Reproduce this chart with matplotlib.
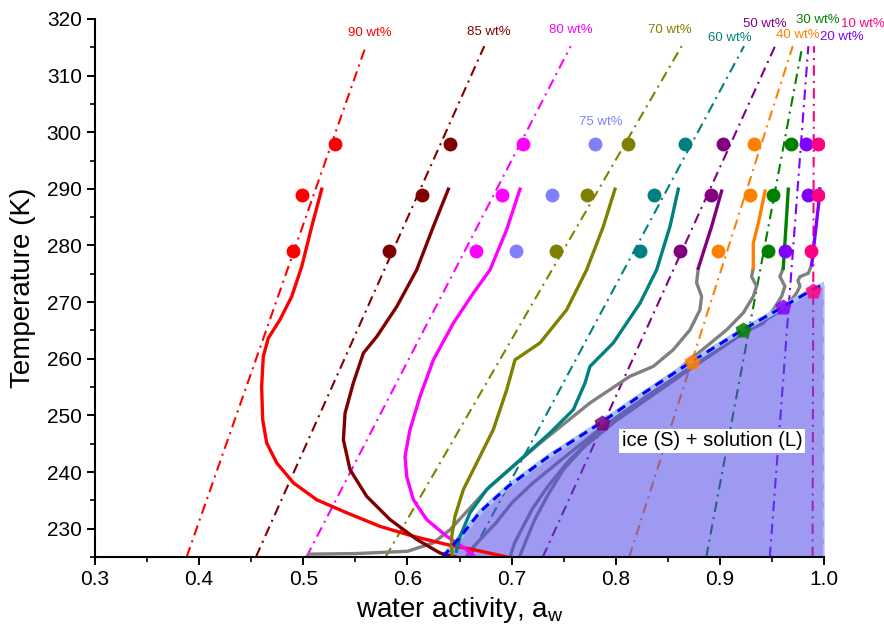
import matplotlib
matplotlib.use("Agg")
import matplotlib.pyplot as plt
from matplotlib.ticker import MultipleLocator

plt.rcParams['font.family'] = ['Liberation Sans', 'DejaVu Sans']
plt.rcParams['mathtext.fontset'] = 'custom'
plt.rcParams['mathtext.rm'] = 'Liberation Sans'
plt.rcParams['mathtext.it'] = 'Liberation Sans'

# ---------------- data ----------------
wt_colors = {90: '#ff0000', 85: '#800000', 80: '#ff00ff', 75: '#8080ff', 70: '#808000',
             60: '#008080', 50: '#800080', 40: '#ff8000', 30: '#008000', 20: '#8000ff',
             10: '#ff0080'}

# isopleths (dash-dot): aw at bottom (225 K) and at top (315.2 K)
iso_wt = [90, 85, 80, 70, 60, 50, 40, 30, 20, 10]
iso_aw_bottom = [0.388, 0.4545, 0.503, 0.579, 0.660, 0.730, 0.813, 0.887, 0.948, 0.989]
iso_aw_top = [0.560, 0.6738, 0.7568, 0.8633, 0.9232, 0.953, 0.970, 0.9792, 0.985, 0.9904]
iso_T_bottom = 225.0
iso_T_top = 315.2

# circles at three temperatures
circ_wt = [90, 85, 80, 75, 70, 60, 50, 40, 30, 20, 10]
circ_T = [298, 289, 279]
aw_298 = [0.5305, 0.641, 0.711, 0.780, 0.812, 0.8665, 0.903, 0.933, 0.968, 0.983, 0.994]
aw_289 = [0.4985, 0.6137, 0.6905, 0.7385, 0.7721, 0.837, 0.8912, 0.929, 0.9513, 0.985, 0.994]
aw_279 = [0.4904, 0.5823, 0.6659, 0.7043, 0.7427, 0.8229, 0.8617, 0.8985, 0.946, 0.9626, 0.9872]

# freezing points (pentagons)
pent_wt = [50, 40, 30, 20, 10]
pent_aw = [0.7866, 0.873, 0.9225, 0.961, 0.9898]
pent_T = [248.65, 259.5, 265.1, 269.2, 271.9]

# ice melting curve
ice_aw = [0.634, 0.651, 0.670, 0.697, 0.736, 0.785, 0.830, 0.872, 0.922, 0.961, 0.989, 1.0]
ice_T = [225.0, 228.6, 233.0, 237.5, 242.8, 248.6, 254.3, 259.4, 265.1, 269.2, 272.2, 273.15]

# solid curves (coloured parts)
red90_aw = [0.5177, 0.5081, 0.4985, 0.4889, 0.4776, 0.4664, 0.4616, 0.4600, 0.4610, 0.4649,
            0.4745, 0.4904, 0.5129, 0.5417, 0.5737, 0.6057, 0.6377, 0.6633, 0.6956]
red90_T = [289.95, 283.35, 276.3, 271.0, 266.9, 263.65, 260.4, 255.1, 249.2, 245.1,
           241.6, 238.1, 235.1, 232.8, 230.4, 228.65, 227.2, 226.3, 225.0]
dr85_aw = [0.6393, 0.6249, 0.6089, 0.5897, 0.5705, 0.5577, 0.5480, 0.5401, 0.5385, 0.5449,
           0.5609, 0.5833, 0.6089, 0.6313, 0.6457]
dr85_T = [289.95, 283.35, 275.7, 269.2, 263.9, 261.0, 255.7, 250.4, 245.7, 240.4,
          235.7, 231.6, 228.1, 225.7, 225.0]
mg80_aw = [0.7081, 0.6953, 0.6793, 0.6633, 0.6441, 0.6249, 0.6121, 0.6025, 0.5977, 0.5993,
           0.6057, 0.6185, 0.6377, 0.6569, 0.665]
mg80_T = [289.95, 282.8, 275.7, 271.6, 266.3, 259.8, 253.35, 247.5, 242.8, 239.2,
          235.1, 231.6, 228.65, 226.3, 225.0]
ol70_aw = [0.7993, 0.7881, 0.7721, 0.7529, 0.7273, 0.7033, 0.6953, 0.6825, 0.6665, 0.6537,
           0.6457, 0.6425, 0.6425, 0.643]
ol70_T = [289.95, 283.35, 275.7, 268.65, 262.8, 259.8, 254.5, 247.5, 241.6, 236.9,
          232.2, 228.65, 226.3, 225.0]
tl60_aw = [0.8601, 0.8521, 0.8393, 0.8233, 0.7977, 0.7753, 0.7705, 0.7593, 0.7369, 0.7049,
           0.6761, 0.6601, 0.6505, 0.647]
tl60_T = [289.95, 283.35, 275.7, 269.8, 262.8, 258.65, 255.7, 251.0, 246.9, 241.6,
          236.9, 232.8, 228.65, 226.0]
pu50_aw = [0.9017, 0.8921, 0.8793]
pu50_T = [289.6, 283.35, 276.0]
or40_aw = [0.9434, 0.9369, 0.9321, 0.9321]
or40_T = [289.6, 283.9, 280.4, 276.0]
gr30_aw = [0.9657, 0.9641, 0.9609]
gr30_T = [289.95, 285.1, 276.0]
vi20_aw = [0.996, 0.9955, 0.9882]
vi20_T = [290.0, 288.35, 276.6]

# grey continuations (below ~276 K)
g50_aw = [0.8793, 0.8777, 0.8825, 0.8809, 0.8713, 0.8553, 0.8361, 0.8137, 0.7753, 0.7273,
          0.6793, 0.6409, 0.625, 0.600, 0.550, 0.505]
g50_T = [276.0, 273.4, 271.0, 268.65, 265.1, 261.6, 258.65, 256.9, 252.2, 245.1,
         237.5, 229.8, 227.5, 226.0, 225.6, 225.5]
g40_aw = [0.9321, 0.9305, 0.9353, 0.9321, 0.9225, 0.9065, 0.8873, 0.8713, 0.830, 0.785,
          0.750, 0.720, 0.700, 0.685, 0.672, 0.662, 0.657]
g40_T = [276.0, 274.5, 272.8, 271.0, 268.1, 265.1, 262.2, 259.8, 253.5, 247.6,
         242.5, 238.0, 234.5, 231.0, 228.5, 226.5, 225.2]
g30_aw = [0.9609, 0.9577, 0.9625, 0.9593, 0.9513, 0.9417, 0.920, 0.870, 0.820, 0.780,
          0.755, 0.735, 0.720, 0.710, 0.703, 0.699]
g30_T = [276.0, 274.5, 272.8, 271.0, 268.65, 266.3, 264.3, 258.3, 252.2, 246.5,
         242.0, 237.5, 233.5, 230.0, 227.5, 225.3]
g20_aw = [0.9882, 0.9850, 0.977, 0.975, 0.977, 0.9737, 0.9674, 0.961, 0.920, 0.870,
          0.800, 0.770, 0.750, 0.735, 0.722, 0.713, 0.708]
g20_T = [276.6, 275.1, 274.5, 273.8, 272.8, 271.6, 270.1, 268.8, 264.2, 258.0,
         249.0, 244.5, 240.5, 236.0, 231.5, 227.5, 225.2]

# labels
lab_wt = [90, 85, 80, 75, 70, 60, 50, 40, 30, 20, 10]
lab_aw = [0.564, 0.678, 0.757, 0.786, 0.852, 0.910, 0.943, 0.9745, 0.994, 1.017, 1.037]
lab_T = [317.6, 317.7, 318.1, 301.8, 318.1, 316.7, 319.1, 317.2, 319.9, 316.8, 319.1]

# ---------------- figure ----------------
fig = plt.figure(figsize=(8.84, 6.34), dpi=100)
ax = fig.add_axes([0.1075, 0.1215, 0.8246, 0.8486])

dd = (0, (5, 2.5, 1, 2.5))
for w, a0, a1 in zip(iso_wt, iso_aw_bottom, iso_aw_top):
    ax.plot([a0, a1], [iso_T_bottom, iso_T_top], color=wt_colors[w], lw=1.5,
            linestyle=dd, zorder=1, clip_on=False)

grey = '#808080'
for gx, gy in [(g50_aw, g50_T), (g40_aw, g40_T), (g30_aw, g30_T), (g20_aw, g20_T)]:
    ax.plot(gx, gy, color=grey, lw=2.4, zorder=1.5, solid_capstyle='round')

# ice + solution region
ax.fill_between(ice_aw, ice_T, 225, color='#5048e6', alpha=0.55, lw=0, zorder=2)
ax.plot(ice_aw, ice_T, color='#a8c4f4', lw=3.5, zorder=2.1)
ax.plot([1.0, 1.0], [225, ice_T[-1]], color='#a8c4f4', lw=2.5, ls='--', zorder=2.1)

for cx, cy, w in [(red90_aw, red90_T, 90), (dr85_aw, dr85_T, 85), (mg80_aw, mg80_T, 80),
                  (ol70_aw, ol70_T, 70), (tl60_aw, tl60_T, 60), (pu50_aw, pu50_T, 50),
                  (or40_aw, or40_T, 40), (gr30_aw, gr30_T, 30), (vi20_aw, vi20_T, 20)]:
    ax.plot(cx, cy, color=wt_colors[w], lw=2.4, zorder=3)

ax.plot(ice_aw, ice_T, color='#0000ff', lw=2.2, ls=(0, (3, 2)), zorder=4)

for T, row in zip(circ_T, [aw_298, aw_289, aw_279]):
    for w, a in zip(circ_wt, row):
        ax.plot(a, T, 'o', ms=10, color=wt_colors[w], mec='none', zorder=5)

for w, a, T in zip(pent_wt, pent_aw, pent_T):
    ax.plot(a, T, 'p', ms=12, color=wt_colors[w], mec='none', alpha=0.85, zorder=5)

for w, a, T in zip(lab_wt, lab_aw, lab_T):
    ax.text(a, T, f'{w} wt%', color=wt_colors[w], fontsize=9.5, ha='center', va='center',
            zorder=6, clip_on=False)

ax.text(0.8925, 245.5, 'ice (S) + solution (L)', fontsize=14.5, ha='center', va='center',
        zorder=6, bbox=dict(boxstyle='square,pad=0.12', fc='white', ec='none'))

ax.set_xlim(0.3, 1.0)
ax.set_ylim(225, 320)
ax.xaxis.set_major_locator(MultipleLocator(0.1))
ax.xaxis.set_minor_locator(MultipleLocator(0.05))
ax.yaxis.set_major_locator(MultipleLocator(10))
ax.yaxis.set_minor_locator(MultipleLocator(5))
ax.set_xticks([0.3, 0.4, 0.5, 0.6, 0.7, 0.8, 0.9, 1.0])
ax.set_xticklabels(['0.3', '0.4', '0.5', '0.6', '0.7', '0.8', '0.9', '1.0'])
ax.set_yticks([230, 240, 250, 260, 270, 280, 290, 300, 310, 320])
ax.tick_params(which='major', direction='out', length=6, width=1.4, labelsize=15)
ax.tick_params(which='minor', direction='out', length=3.5, width=1.2)
for s in ['top', 'right']:
    ax.spines[s].set_visible(False)
for s in ['left', 'bottom']:
    ax.spines[s].set_linewidth(1.5)
    ax.spines[s].set_zorder(7)

ax.set_xlabel(r'water activity, a$_\mathregular{w}$', fontsize=20, labelpad=4)
ax.set_ylabel('Temperature (K)', fontsize=20, labelpad=8)

fig.savefig('out.png', dpi=100)
